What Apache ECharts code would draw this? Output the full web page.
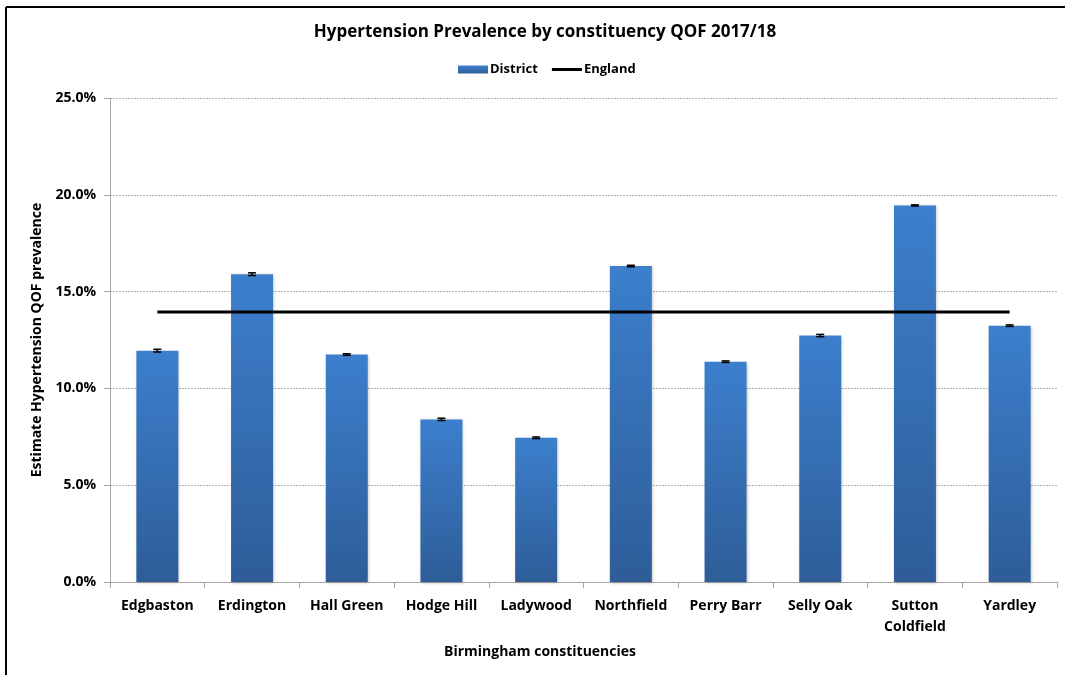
<!DOCTYPE html>
<html>
<head>
<meta charset="utf-8">
<script src="https://cdn.jsdelivr.net/npm/echarts@6/dist/echarts.min.js"></script>
<style>
html,body{margin:0;padding:0;background:#fff;}
#c{width:1065px;height:675px;}
</style>
</head>
<body>
<div id="c"></div>
<script>
var categories = ['Edgbaston','Erdington','Hall Green','Hodge Hill','Ladywood','Northfield','Perry Barr','Selly Oak','Sutton Coldfield','Yardley'];
var districtValues = [11.95, 15.9, 11.75, 8.4, 7.45, 16.32, 11.38, 12.73, 19.45, 13.24];
var errorMargins = [0.07, 0.07, 0.04, 0.06, 0.04, 0.04, 0.04, 0.06, 0.03, 0.04];
var englandValues = [13.95, 13.95, 13.95, 13.95, 13.95, 13.95, 13.95, 13.95, 13.95, 13.95];
var yTicks = [0, 5, 10, 15, 20, 25];

var FONT = '"Open Sans", "Noto Sans", sans-serif';
var chart = echarts.init(document.getElementById('c'));

var errData = categories.map(function(c, i){
  return [i, districtValues[i] - errorMargins[i], districtValues[i] + errorMargins[i]];
});

chart.setOption({
  animation: false,
  textStyle: {fontFamily: FONT},
  title: {
    text: 'Hypertension Prevalence by constituency QOF 2017/18',
    left: 540, textAlign: 'center', top: 19,
    textStyle: {fontFamily: FONT, fontSize: 17, fontWeight: 'bold', color: '#000'}
  },
  legend: {
    left: 453, top: 58,
    itemWidth: 30, itemHeight: 8, itemGap: 14,
    textStyle: {fontFamily: FONT, fontSize: 13, fontWeight: 'bold', color: '#000', padding: [0,0,0,-3]},
    data: [
      {name: 'District', icon: 'rect'},
      {name: 'England', icon: 'path://M0,0 L30,0 L30,3 L0,3 Z', itemStyle: {color: '#000'}}
    ]
  },
  graphic: [
    {type: 'line', shape: {x1: 6, y1: 7, x2: 1065, y2: 7}, style: {stroke: '#000', lineWidth: 2}},
    {type: 'line', shape: {x1: 6, y1: 7, x2: 6, y2: 675}, style: {stroke: '#000', lineWidth: 2}}
  ],
  grid: {left: 110, right: 8, top: 98, bottom: 93, containLabel: false},
  xAxis: {
    type: 'category',
    data: categories,
    name: 'Birmingham constituencies',
    nameLocation: 'middle',
    nameGap: 63,
    nameTextStyle: {fontFamily: FONT, fontSize: 14, fontWeight: 'bold', color: '#000', padding: [0, 87, 0, 0]},
    axisLine: {lineStyle: {color: '#a6a6a6'}},
    axisTick: {show: true, alignWithLabel: false, length: 6, lineStyle: {color: '#a6a6a6'}},
    axisLabel: {
      fontFamily: FONT, fontSize: 14, fontWeight: 'bold', color: '#000', margin: 14, interval: 0,
      lineHeight: 21,
      formatter: function(v){ return v === 'Sutton Coldfield' ? 'Sutton\nColdfield' : v; }
    }
  },
  yAxis: {
    type: 'value',
    min: 0, max: 25, interval: 5,
    name: 'Estimate Hypertension QOF prevalence',
    nameLocation: 'middle',
    nameGap: 64,
    nameTextStyle: {fontFamily: FONT, fontSize: 14, fontWeight: 'bold', color: '#000'},
    axisLine: {show: true, lineStyle: {color: '#a6a6a6'}},
    axisTick: {show: true, length: 6, lineStyle: {color: '#a6a6a6'}},
    axisLabel: {
      fontFamily: FONT, fontSize: 14, fontWeight: 'bold', color: '#000', margin: 14,
      formatter: function(v){ return yTicks.indexOf(v) >= 0 ? v.toFixed(1) + '%' : ''; }
    },
    splitLine: {show: true, lineStyle: {color: '#b0b0b0', type: [2, 1]}}
  },
  series: [
    {
      name: 'District',
      type: 'bar',
      data: districtValues,
      barWidth: 42,
      itemStyle: {
        color: new echarts.graphic.LinearGradient(0, 0, 0, 1, [
          {offset: 0, color: '#3c7fcd'},
          {offset: 1, color: '#2e5d98'}
        ]),
        shadowBlur: 3, shadowColor: 'rgba(0,0,0,0.25)', shadowOffsetX: 1, shadowOffsetY: 1
      },
      z: 2
    },
    {
      name: 'Errors',
      type: 'custom',
      data: errData,
      z: 5,
      renderItem: function(params, api){
        var i = api.value(0);
        var lo = api.coord([i, api.value(1)]);
        var hi = api.coord([i, api.value(2)]);
        var hw = 4;
        return {
          type: 'group',
          children: [
            {type: 'line', shape: {x1: lo[0], y1: lo[1], x2: hi[0], y2: hi[1]}, style: {stroke: '#000', lineWidth: 1.5}},
            {type: 'line', shape: {x1: hi[0]-hw, y1: hi[1], x2: hi[0]+hw, y2: hi[1]}, style: {stroke: '#000', lineWidth: 1.5}},
            {type: 'line', shape: {x1: lo[0]-hw, y1: lo[1], x2: lo[0]+hw, y2: lo[1]}, style: {stroke: '#000', lineWidth: 1.5}}
          ]
        };
      }
    },
    {
      name: 'England',
      type: 'line',
      data: englandValues,
      symbol: 'none',
      lineStyle: {color: '#000', width: 3},
      itemStyle: {color: '#000'},
      z: 4
    }
  ]
});
</script>
</body>
</html>
